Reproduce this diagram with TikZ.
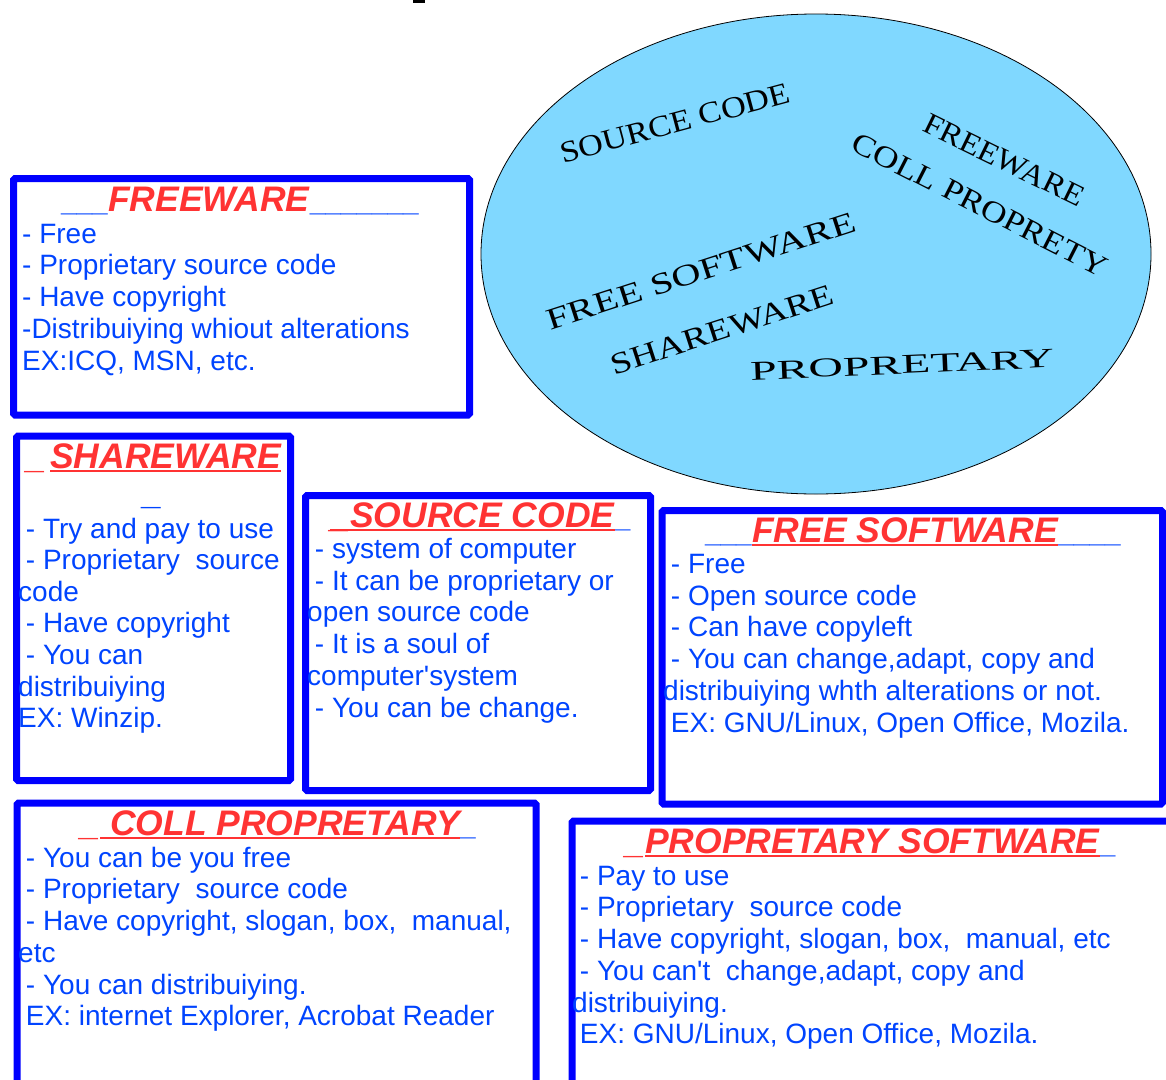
\documentclass[tikz,border=0pt]{standalone}
\usepackage{fontspec}
\setmainfont{Liberation Sans}
\newfontfamily\ellf{Liberation Serif}
\usepackage{graphicx}
\definecolor{bordblue}{HTML}{0000FF}
\definecolor{txtblue}{HTML}{0044FF}
\definecolor{ttred}{HTML}{FF3333}
\definecolor{ellfill}{HTML}{80D8FF}
\tikzset{
  frame/.style={draw=bordblue, line width=7pt, rounded corners=1.5pt},
  bodyline/.style={anchor=base west, inner sep=0pt, text=txtblue, font=\fontsize{28}{32}\selectfont},
  ttl/.style={anchor=base west, inner sep=0pt, text=ttred, font=\fontsize{35.5}{40}\selectfont\bfseries\itshape},
  redusc/.style={inner sep=0pt, text=ttred, font=\fontsize{35}{40}\selectfont\bfseries\itshape},
  usc/.style={inner sep=0pt, text=txtblue, font=\fontsize{28}{32}\selectfont\bfseries},
  ulin/.style={draw=ttred, line width=2pt},
  elltext/.style={inner sep=0pt, text=black},
}
\begin{document}
\begin{tikzpicture}[x=1pt,y=-1pt]
\useasboundingbox (0,0) rectangle (1166,1079);
\clip (0,0) rectangle (1166,1079);
\fill[white] (0,0) rectangle (1166,1079);

% tiny mark at top
\fill[black] (413,0) rectangle (425,2.5);

% ellipse
\draw[fill=ellfill, draw=black, line width=0.8pt] (816,254) ellipse [x radius=335, y radius=240];
\node[elltext, rotate=15] (e1) at (675,123) {\resizebox{237pt}{20pt}{\ellf SOURCE CODE}};
\node[elltext, rotate=-26] (e2) at (1004,160) {\resizebox{175pt}{20pt}{\ellf FREEWARE}};
\node[elltext, rotate=-27] (e3) at (980,205) {\resizebox{282pt}{20pt}{\ellf COLL PROPRETY}};
\node[elltext, rotate=18] (e4) at (701,271) {\resizebox{323pt}{20pt}{\ellf FREE SOFTWARE}};
\node[elltext, rotate=18] (e5) at (722,330) {\resizebox{233pt}{20pt}{\ellf SHAREWARE}};
\node[elltext, rotate=2.5] (e6) at (902,365) {\resizebox{304pt}{18pt}{\ellf PROPRETARY}};

% frames
\draw[frame] (13.5,178.5) rectangle (469.5,415);
\draw[frame] (16.5,436) rectangle (290.5,780.5);
\draw[frame] (305.5,495.5) rectangle (650.5,790.5);
\draw[frame] (662,510.5) rectangle (1162.5,804);
\draw[frame] (17,803) rectangle (536,1120);
\draw[frame] (572,821) rectangle (1220,1120);

% ---- Box 1: FREEWARE
\node[ttl] (t1) at (108,211) {FREEWARE};
\node[usc, anchor=base east] (t1l) at (t1.base west) {\_\_\_};
\node[usc, anchor=base west] (t1r) at (t1.base east) {\_\_\_\_\_\_\_};
\foreach \t [count=\i from 0] in {{- Free},{- Proprietary source code},{- Have copyright},{-Distribuiying whiout alterations},{EX:ICQ, MSN, etc.}}
  \node[bodyline] (fw\i) at (22,243+31.75*\i) {\t};

% ---- Box 2: SHAREWARE
\node[redusc, anchor=base west] (t2l) at (26,468) {\_};
\node[ttl] (t2) at (50,468) {SHAREWARE};
\draw[ulin] ([yshift=-2.5pt]t2.base west) -- ([yshift=-2.5pt]t2.base east);
\node[usc, anchor=base west, font=\fontsize{35}{40}\selectfont\bfseries] (t2r) at (141,504) {\_};
\foreach \t [count=\i from 0] in {{\ - Try and pay to use},{\ - Proprietary\ \ source},{code},{\ - Have copyright},{\ - You can},{distribuiying},{EX: Winzip.}}
  \node[bodyline] (sw\i) at (18,538+31.6*\i) {\t};

% ---- Box 3: SOURCE CODE
\node[ttl] (t3) at (350,527) {SOURCE CODE};
\node[redusc, anchor=base east] (t3l) at (t3.base west) {\_};
\node[usc, anchor=base west] (t3r) at (t3.base east) {\_};
\draw[ulin] ([yshift=-2.5pt]t3l.base west) -- ([yshift=-2.5pt]t3.base east);
\foreach \t [count=\i from 0] in {{\ - system of computer},{\ - It can be proprietary or},{open source code},{\ - It is a soul of},{computer\textquotesingle system},{\ - You can be change.}}
  \node[bodyline] (sc\i) at (307,558.5+31.7*\i) {\t};

% ---- Box 4: FREE SOFTWARE
\node[ttl] (t4) at (752,542) {FREE SOFTWARE};
\node[usc, anchor=base east] (t4l) at (t4.base west) {\_\_\_};
\node[usc, anchor=base west] (t4r) at (t4.base east) {\_\_\_\_};
\draw[ulin] ([yshift=-2.5pt]t4.base west) -- ([yshift=-2.5pt]t4.base east);
\foreach \t [count=\i from 0] in {{\ - Free},{\ - Open source code},{\ - Can have copyleft},{\ - You can change,adapt, copy and},{distribuiying whth alterations or not.},{\ EX: GNU/Linux, Open Office, Mozila.}}
  \node[bodyline] (fs\i) at (663,573.5+31.7*\i) {\t};

% ---- Box 5: COLL PROPRETARY
\node[ttl] (t5) at (100,835) {\ COLL PROPRETARY};
\node[redusc, anchor=base east] (t5l) at (t5.base west) {\_};
\node[usc, anchor=base west] (t5r) at (t5.base east) {\_};
\draw[ulin] ([yshift=-2.5pt]t5.base west) -- ([yshift=-2.5pt]t5.base east);
\foreach \t [count=\i from 0] in {{\ - You can be you free},{\ - Proprietary\ \ source code},{\ - Have copyright, slogan, box,\ \ manual,},{etc},{\ - You can distribuiying.},{\ EX: internet Explorer, Acrobat Reader}}
  \node[bodyline] (cp\i) at (18,867+31.75*\i) {\t};

% ---- Box 6: PROPRETARY SOFTWARE
\node[ttl] (t6) at (645,853) {PROPRETARY SOFTWARE};
\node[redusc, anchor=base east] (t6l) at (t6.base west) {\_};
\node[usc, anchor=base west] (t6r) at (t6.base east) {\_};
\draw[ulin] ([yshift=-2.5pt]t6.base west) -- ([yshift=-2.5pt]t6.base east);
\foreach \t [count=\i from 0] in {{\ - Pay to use},{\ - Proprietary\ \ source code},{\ - Have copyright, slogan, box,\ \ manual, etc},{\ - You can\textquotesingle t\ \ change,adapt, copy and},{distribuiying.},{\ EX: GNU/Linux, Open Office, Mozila.}}
  \node[bodyline] (ps\i) at (572,885+31.75*\i) {\t};
\end{tikzpicture}
\end{document}
